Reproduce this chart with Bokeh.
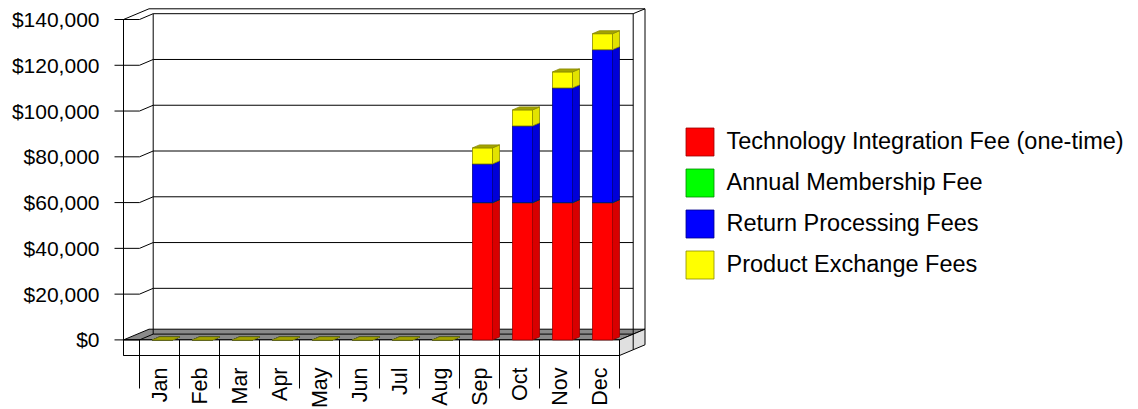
import numpy as np
from bokeh.plotting import figure
from bokeh.models import (Range1d, FixedTicker, NumeralTickFormatter, Legend,
                          LegendItem)
from bokeh.core.properties import value
from bokeh.embed import file_html
from bokeh.resources import INLINE

# ---- data -------------------------------------------------------------
months = ["Jan", "Feb", "Mar", "Apr", "May", "Jun",
          "Jul", "Aug", "Sep", "Oct", "Nov", "Dec"]
tech_integration = [0, 0, 0, 0, 0, 0, 0, 0, 60000, 60000, 60000, 60000]
annual_membership = [0, 0, 0, 0, 0, 0, 0, 0, 0, 0, 0, 0]
return_processing = [0, 0, 0, 0, 0, 0, 0, 0, 16900, 33500, 50100, 66800]
product_exchange = [0, 0, 0, 0, 0, 0, 0, 0, 7000, 7000, 7000, 7000]
series_names = ["Technology Integration Fee (one-time)", "Annual Membership Fee",
                "Return Processing Fees", "Product Exchange Fees"]
y_ticks = [0, 20000, 40000, 60000, 80000, 100000, 120000, 140000]

# ---- page geometry (pixels) ------------------------------------------
W, H = 1138, 409
LEFT = 112
CAT_PX = 40.0          # width of one month slot
X0_PX = 139.0          # left edge of the first slot (front plane)
ZERO_PX = 339.4        # $0 on the front plane
TOP_PX = 19.0          # $140,000 on the front plane
PX_PER_VAL = (ZERO_PX - TOP_PX) / 140000.0


def vx(px):
    return (px - X0_PX) / CAT_PX


def vy(py):
    return (ZERO_PX - py) / PX_PER_VAL


def dxu(px):
    return px / CAT_PX


def dyu(px):
    return px / PX_PER_VAL


# depth offsets for the pseudo-3D box (right, up) in pixels
IN_DX, IN_DY = 13.7, 5.8      # front plane -> back wall face
FULL_DX, FULL_DY = 25.5, 10.7  # front plane -> rear of the box
BAR_OFF, BAR_W = 13.0, 20.0
BAR_DX, BAR_DY = 7.0, 3.0
WALL_X = 123.0
RIGHT_X = X0_PX + CAT_PX * len(months)
FLOOR_BOTTOM = 355.0
SEP_BOTTOM = 388.0

p = figure(width=W, height=H,
           x_range=Range1d(vx(LEFT), vx(W)), y_range=Range1d(vy(H), vy(0)),
           x_axis_location=None, y_axis_location="left",
           output_backend="svg", toolbar_location=None,
           min_border_left=LEFT, min_border_right=0,
           min_border_top=0, min_border_bottom=0)
p.outline_line_color = None
p.xgrid.visible = False
p.ygrid.visible = False
p.background_fill_color = "white"
p.border_fill_color = "white"

ax = p.yaxis[0]
ax.ticker = FixedTicker(ticks=y_ticks)
ax.formatter = NumeralTickFormatter(format="$0,0")
ax.axis_line_color = None
ax.major_tick_line_color = None
ax.minor_tick_line_color = None
ax.major_label_standoff = 7
ax.major_label_text_font = "Liberation Sans"
ax.major_label_text_font_size = "21px"
ax.major_label_text_color = "black"

# ---- floor -------------------------------------------------------------
p.patch([vx(WALL_X), vx(RIGHT_X), vx(RIGHT_X + FULL_DX), vx(WALL_X + FULL_DX)],
        [0, 0, dyu(FULL_DY), dyu(FULL_DY)],
        fill_color="#8a8a8a", line_color="black", line_width=1)
p.quad(left=[vx(WALL_X)], right=[vx(RIGHT_X)], bottom=[vy(FLOOR_BOTTOM)], top=[0],
       fill_color="white", line_color="black", line_width=1)
p.patch([vx(RIGHT_X), vx(RIGHT_X + FULL_DX), vx(RIGHT_X + FULL_DX), vx(RIGHT_X)],
        [0, dyu(FULL_DY), vy(FLOOR_BOTTOM) + dyu(FULL_DY), vy(FLOOR_BOTTOM)],
        fill_color="#e0e0e0", line_color="black", line_width=1)
p.segment(x0=[vx(RIGHT_X + IN_DX)], y0=[dyu(IN_DY)],
          x1=[vx(RIGHT_X + IN_DX)], y1=[vy(FLOOR_BOTTOM) + dyu(IN_DY)],
          line_color="black", line_width=1)

# ---- walls ----------------------------------------------------------------
top_val = y_ticks[-1]
wall_xs = [
    [vx(WALL_X), vx(WALL_X)],
    [vx(X0_PX + IN_DX), vx(X0_PX + IN_DX)],
    [vx(RIGHT_X + IN_DX), vx(RIGHT_X + IN_DX)],
    [vx(RIGHT_X + FULL_DX), vx(RIGHT_X + FULL_DX)],
    [vx(WALL_X), vx(WALL_X + FULL_DX), vx(RIGHT_X + FULL_DX)],
    [vx(RIGHT_X + IN_DX), vx(RIGHT_X + FULL_DX)],
]
wall_ys = [
    [top_val, vy(FLOOR_BOTTOM)],
    [top_val + dyu(IN_DY), dyu(IN_DY)],
    [top_val + dyu(IN_DY), dyu(IN_DY)],
    [top_val + dyu(FULL_DY), dyu(FULL_DY)],
    [top_val, top_val + dyu(FULL_DY), top_val + dyu(FULL_DY)],
    [top_val + dyu(IN_DY), top_val + dyu(FULL_DY)],
]
p.multi_line(wall_xs, wall_ys, line_color="black", line_width=1)

# tick marks running across the left wall and along the back wall
grid_xs = [[vx(LEFT + 2), vx(X0_PX), vx(X0_PX + IN_DX), vx(RIGHT_X + IN_DX)]
           for _ in y_ticks]
grid_ys = [[t, t, t + dyu(IN_DY), t + dyu(IN_DY)] for t in y_ticks]
p.multi_line(grid_xs, grid_ys, line_color="black", line_width=1)

# month slot separators below the floor
seps = np.arange(len(months) + 1)
p.segment(x0=seps, y0=[0] * len(seps), x1=seps, y1=[vy(SEP_BOTTOM)] * len(seps),
          line_color="black", line_width=1)

# ---- stacked 3D bars ---------------------------------------------------------
stack = [tech_integration, annual_membership, return_processing, product_exchange]
front_cols = ["#ff0000", "#00ff00", "#0000ff", "#ffff00"]
side_cols = ["#d80000", "#00d000", "#0000d8", "#e2e200"]
top_cols = ["#b00000", "#00a000", "#0000a8", "#a3a300"]
edge_cols = ["#990000", "#008800", "#000088", "#8a8a00"]

idx = np.arange(len(months))
xl = idx + dxu(BAR_OFF)
xr = xl + dxu(BAR_W)
ddx, ddy = dxu(BAR_DX), dyu(BAR_DY)
base = np.zeros(len(months))
legend_items = []
for name, vals, fc, sc, tc, ec in zip(series_names, stack, front_cols,
                                      side_cols, top_cols, edge_cols):
    vals = np.asarray(vals, dtype=float)
    top = base + vals
    front = p.quad(left=xl, right=xr, bottom=base, top=top,
                   fill_color=fc, line_color=ec, line_width=0.8)
    side_x = [[a, a + ddx, a + ddx, a] for a in xr]
    side_y = [[b, b + ddy, t + ddy, t] for b, t in zip(base, top)]
    p.patches(side_x, side_y, fill_color=sc, line_color=ec, line_width=0.8)
    top_x = [[a, c, c + ddx, a + ddx] for a, c in zip(xl, xr)]
    top_y = [[t, t, t + ddy, t + ddy] for t in top]
    p.patches(top_x, top_y, fill_color=tc, line_color=ec, line_width=0.8)
    legend_items.append(LegendItem(label=name, renderers=[front]))
    base = top

# ---- month labels --------------------------------------------------------------
p.text(x=idx + 0.5, y=[vy(367)] * len(months), text=months, angle=np.pi / 2,
       text_align="right", text_baseline="middle",
       text_font=value("Liberation Sans"), text_font_size="21.5px", text_color="black")

# ---- legend -------------------------------------------------------------------
# legend swatches are drawn inset by 10% of the glyph box, hence 35px boxes
legend = Legend(items=legend_items, location=(681.5 - LEFT, 127.4),
                orientation="vertical", glyph_width=35, glyph_height=35,
                label_height=35, spacing=6, padding=0, margin=0,
                label_standoff=10, border_line_color=None,
                background_fill_alpha=0,
                label_text_font="Liberation Sans", label_text_font_size="23.5px",
                label_text_color="black", label_text_baseline="middle")
p.add_layout(legend)

open("out.html", "w").write(file_html(p, INLINE))
